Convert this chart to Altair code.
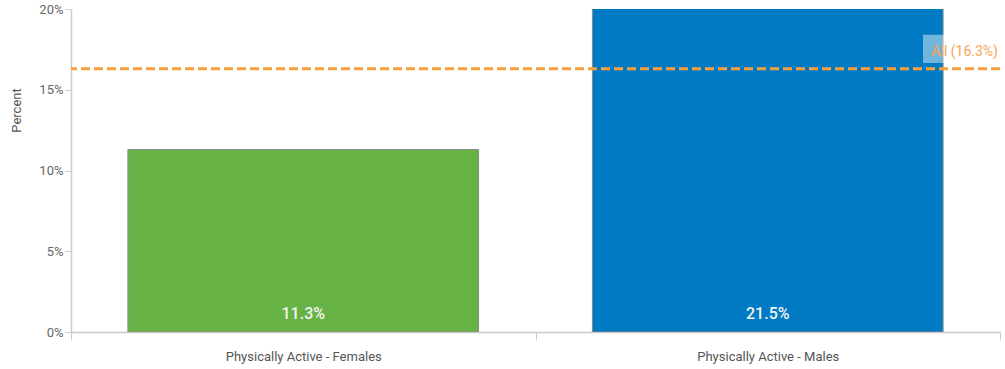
import altair as alt
import pandas as pd

categories = ["Physically Active - Females", "Physically Active - Males"]
values = [11.3, 21.5]
bar_colors = ["#66B245", "#007AC2"]
value_labels = ["11.3%", "21.5%"]
all_value = 16.3
all_label = "All (16.3%)"
y_ticks = [0, 5, 10, 15, 20]

FONT = "Roboto"
W, H = 929, 323

bars_df = pd.DataFrame({"cat": categories, "val": values, "lab": value_labels})
ref_df = pd.DataFrame({"v": [all_value], "lab": [all_label]})

x = alt.X("cat:N", sort=categories, title=None,
          scale=alt.Scale(paddingInner=0, paddingOuter=0),
          axis=alt.Axis(labelAngle=0, labelFont=FONT, labelFontSize=13, labelColor="#555",
                        labelPadding=10, tickBand="extent", tickSize=8, tickColor="#ccc",
                        domainColor="#ccc", domainWidth=1.5))
y = alt.Y("val:Q", title="Percent",
          scale=alt.Scale(domain=[0, 20], nice=False),
          axis=alt.Axis(values=y_ticks, labelExpr="datum.value + '%'", grid=False,
                        labelFont=FONT, labelFontSize=13, labelColor="#666",
                        tickColor="#ccc", tickSize=6, domainColor="#ccc", domainWidth=1.5,
                        titleFont=FONT, titleFontSize=13, titleColor="#555",
                        titleFontWeight="normal", titleX=-48, titleY=101, titleAngle=270))

bars = alt.Chart(bars_df).mark_bar(clip=True, stroke="#8a8a8a", strokeWidth=1,
                                   width=alt.RelativeBandSize(0.755)).encode(
    x=x, y=y,
    color=alt.Color("cat:N", scale=alt.Scale(domain=categories, range=bar_colors), legend=None),
)

bar_text = alt.Chart(bars_df).mark_text(baseline="bottom", dy=-10, font=FONT, fontSize=16,
                                        fontWeight=500, color="#F2F2F2").encode(
    x=alt.X("cat:N", sort=categories),
    y=alt.datum(0),
    text="lab:N",
)

rule = alt.Chart(ref_df).mark_rule(color="#F5A03C", strokeWidth=3, strokeDash=[9, 4]).encode(
    y=alt.Y("v:Q"),
)

box = alt.Chart(ref_df).mark_rect(color="white", opacity=0.45).encode(
    x=alt.value(852), x2=alt.value(W),
    y=alt.datum(16.65), y2=alt.datum(18.4),
)

ref_text = alt.Chart(ref_df).mark_text(align="right", baseline="middle", dy=-17, dx=-2,
                                       font=FONT, fontSize=14, color="#F5A55A").encode(
    x=alt.value(W), y=alt.Y("v:Q"), text="lab:N",
)

chart = alt.layer(bars, bar_text, rule, box, ref_text).properties(
    width=W, height=H,
    autosize=alt.AutoSizeParams(type="none"),
    padding={"left": 71, "top": 9, "right": 5, "bottom": 37},
).configure(background="white").configure_view(stroke=None)

chart.save("out.html", embed_options={"renderer": "svg", "actions": False})
